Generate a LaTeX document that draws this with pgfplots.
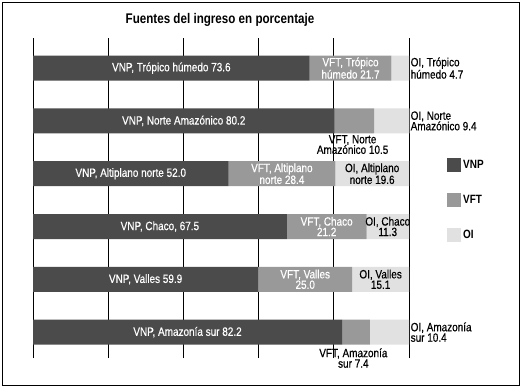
\documentclass[border=0pt]{standalone}
\usepackage{pgfplots}
\pgfplotsset{compat=1.18}
\usepackage{fontspec}
\setmainfont{Liberation Sans}[FakeStretch=0.83, UprightFeatures={FakeBold=0.5}]
\definecolor{cVNP}{HTML}{4B4B4B}
\definecolor{cVFT}{HTML}{999999}
\definecolor{cOI}{HTML}{E1E1E1}
\begin{document}
\begin{tikzpicture}[x=1pt,y=1pt,
  lab/.style={font=\fontsize{12}{10.5}\selectfont, align=center, inner sep=0pt},
  labl/.style={font=\fontsize{12}{10.5}\selectfont, align=left, inner sep=0pt, anchor=west}]
\useasboundingbox (0,0) rectangle (524,389);
\draw[line width=1pt] (2.5,3.5) rectangle (519.5,386.5);
\node[font=\bfseries\fontsize{14}{16}\selectfont] at (220,369) {Fuentes del ingreso en porcentaje};
\begin{axis}[
  at={(33pt,31pt)}, anchor=south west,
  scale only axis, width=376pt, height=320pt,
  clip=false,
  xbar stacked, bar width=25pt,
  xmin=0, xmax=100, ymin=-0.49, ymax=5.57,
  axis line style={draw=none},
  xtick={0,20,...,100}, xticklabels={}, ytick=\empty,
  major tick length=0pt,
  xmajorgrids=true, grid style={black, line width=0.9pt},
  legend style={at={(1.093,0.494)}, anchor=west, draw=none, fill=none,
    row sep=21pt, font=\bfseries\fontsize{12}{12}\selectfont,
    cells={anchor=west}},
  legend image code/.code={\fill[#1] (0pt,-7pt) rectangle (14pt,7pt);},
]
\addplot[fill=cVNP, draw=none] coordinates {(82.2,0) (59.9,1) (67.5,2) (52.0,3) (80.2,4) (73.6,5)};
\addplot[fill=cVFT, draw=none] coordinates {(7.4,0) (25.0,1) (21.2,2) (28.4,3) (10.5,4) (21.7,5)};
\addplot[fill=cOI, draw=none] coordinates {(10.4,0) (15.1,1) (11.3,2) (19.6,3) (9.4,4) (4.7,5)};
\legend{VNP, VFT, OI}
\coordinate (a1) at (axis cs:36.8,5);
\coordinate (a2) at (axis cs:84.45,5);
\coordinate (a3) at (axis cs:100,5);
\coordinate (b1) at (axis cs:40.1,4);
\coordinate (b2) at (axis cs:85.0,4);
\coordinate (b3) at (axis cs:100,4);
\coordinate (c1) at (axis cs:26.0,3);
\coordinate (c2) at (axis cs:66.2,3);
\coordinate (c3) at (axis cs:90.2,3);
\coordinate (d1) at (axis cs:33.75,2);
\coordinate (d2) at (axis cs:78.1,2);
\coordinate (d3) at (axis cs:94.35,2);
\coordinate (e1) at (axis cs:29.95,1);
\coordinate (e2) at (axis cs:72.4,1);
\coordinate (e3) at (axis cs:92.45,1);
\coordinate (f1) at (axis cs:41.1,0);
\coordinate (f2) at (axis cs:85.2,0);
\coordinate (f3) at (axis cs:100,0);
\end{axis}
% Trópico húmedo
\node[lab, white] at (a1) {VNP, Trópico húmedo 73.6};
\node[lab, white] at (a2) {VFT, Trópico\\húmedo 21.7};
\node[labl] at ([xshift=1.5pt]a3) {OI, Trópico\\húmedo 4.7};
% Norte Amazónico
\node[lab, white] at (b1) {VNP, Norte Amazónico 80.2};
\node[lab, anchor=north] at ([yshift=-14pt]b2) {VFT, Norte\\Amazónico 10.5};
\node[labl] at ([xshift=1.5pt]b3) {OI, Norte\\Amazónico 9.4};
% Altiplano norte
\node[lab, white] at (c1) {VNP, Altiplano norte 52.0};
\node[lab, white] at (c2) {VFT, Altiplano\\norte 28.4};
\node[lab] at (c3) {OI, Altiplano\\norte 19.6};
% Chaco
\node[lab, white] at (d1) {VNP, Chaco, 67.5};
\node[lab, white] at (d2) {VFT, Chaco\\21.2};
\node[lab] at (d3) {OI, Chaco\\11.3};
% Valles
\node[lab, white] at (e1) {VNP, Valles 59.9};
\node[lab, white] at (e2) {VFT, Valles\\25.0};
\node[lab] at (e3) {OI, Valles\\15.1};
% Amazonía sur
\node[lab, white] at (f1) {VNP, Amazonía sur 82.2};
\node[lab, anchor=north] at ([yshift=-16pt]f2) {VFT, Amazonía\\sur 7.4};
\node[labl] at ([xshift=1.5pt]f3) {OI, Amazonía\\sur 10.4};
\end{tikzpicture}
\end{document}
